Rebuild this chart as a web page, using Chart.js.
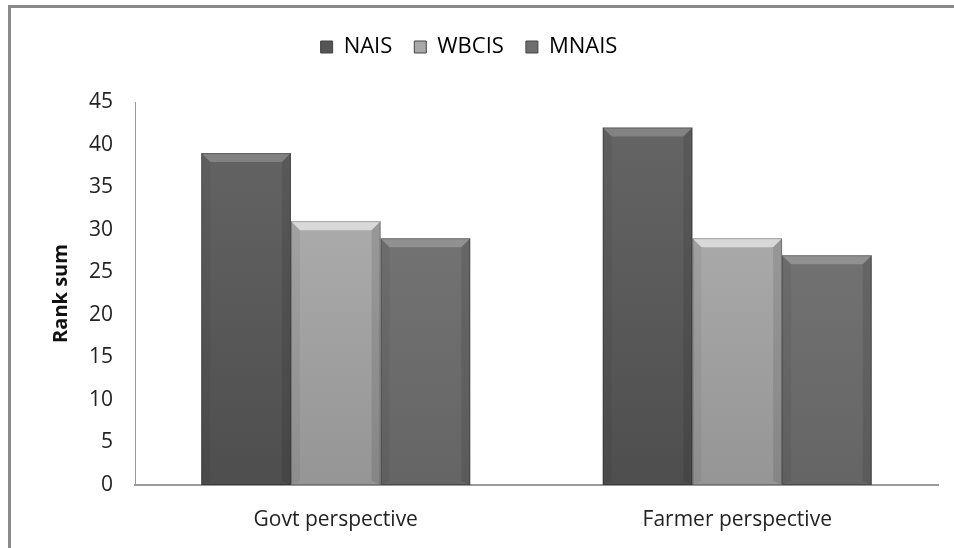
<!DOCTYPE html>
<html>
<head>
<meta charset="utf-8">
<script src="https://cdn.jsdelivr.net/npm/chart.js@4/dist/chart.umd.min.js"></script>
<style>
    body { margin: 0; background: #fff; overflow: hidden; }
    .frame {
        position: absolute;
        left: 8px;
        top: 5px;
        width: 980px;
        height: 580px;
        border: 3px solid #8a8a8a;
    }
    #chart-wrap {
        position: absolute;
        left: 0;
        top: 0;
        width: 954px;
        height: 548px;
    }
</style>
</head>
<body>
<div class="frame"></div>
<div id="chart-wrap"><canvas id="rankChart"></canvas></div>
<script>
// Chart data
const categories = ['Govt perspective', 'Farmer perspective'];
const naisValues = [39, 42];
const wbcisValues = [31, 29];
const mnaisValues = [29, 27];
const yTicks = [0, 5, 10, 15, 20, 25, 30, 35, 40, 45];

const fontFamily = '"Open Sans", Lato, sans-serif';

// vertical gradient per bar
function barGradient(top, bottom) {
    return function(context) {
        const chart = context.chart;
        const area = chart.chartArea;
        if (!area) return bottom;
        const g = chart.ctx.createLinearGradient(0, area.top, 0, area.bottom);
        g.addColorStop(0, top);
        g.addColorStop(1, bottom);
        return g;
    };
}

// Extra space under the legend
const legendGap = {
    id: 'legendGap',
    beforeInit(chart) {
        const origFit = chart.legend.fit;
        chart.legend.fit = function() {
            origFit.bind(chart.legend)();
            this.height += 34;
        };
    }
};

// Draws the bevelled top edge on each bar
const bevelPlugin = {
    id: 'bevel',
    afterDatasetsDraw(chart) {
        const ctx = chart.ctx;
        chart.data.datasets.forEach((ds, i) => {
            const meta = chart.getDatasetMeta(i);
            meta.data.forEach(bar => {
                const left = bar.x - bar.width / 2;
                const right = bar.x + bar.width / 2;
                const top = bar.y;
                const bevel = 9;
                ctx.save();
                // top highlight
                ctx.beginPath();
                ctx.moveTo(left, top);
                ctx.lineTo(right, top);
                ctx.lineTo(right - bevel, top + bevel);
                ctx.lineTo(left + bevel, top + bevel);
                ctx.closePath();
                ctx.fillStyle = ds.bevelTop;
                ctx.fill();
                // side shades
                ctx.beginPath();
                ctx.moveTo(left, top);
                ctx.lineTo(left + bevel, top + bevel);
                ctx.lineTo(left + bevel, bar.base - 4);
                ctx.lineTo(left, bar.base);
                ctx.closePath();
                ctx.fillStyle = 'rgba(0,0,0,0.05)';
                ctx.fill();
                ctx.beginPath();
                ctx.moveTo(right, top);
                ctx.lineTo(right - bevel, top + bevel);
                ctx.lineTo(right - bevel, bar.base - 4);
                ctx.lineTo(right, bar.base);
                ctx.closePath();
                ctx.fillStyle = 'rgba(0,0,0,0.10)';
                ctx.fill();
                ctx.strokeStyle = 'rgba(0,0,0,0.25)';
                ctx.lineWidth = 1;
                ctx.strokeRect(left + 0.5, top + 0.5, bar.width - 1, bar.base - top - 1);
                ctx.restore();
            });
        });
    }
};

const ctx = document.getElementById('rankChart').getContext('2d');

new Chart(ctx, {
    type: 'bar',
    data: {
        labels: categories,
        datasets: [
            {
                label: 'NAIS',
                data: naisValues,
                backgroundColor: barGradient('#666666', '#4e4e4e'),
                bevelTop: 'rgba(255,255,255,0.2)',
                borderWidth: 0
            },
            {
                label: 'WBCIS',
                data: wbcisValues,
                backgroundColor: barGradient('#b4b4b4', '#959595'),
                bevelTop: 'rgba(255,255,255,0.55)',
                borderWidth: 0
            },
            {
                label: 'MNAIS',
                data: mnaisValues,
                backgroundColor: barGradient('#7a7a7a', '#656565'),
                bevelTop: 'rgba(255,255,255,0.22)',
                borderWidth: 0
            }
        ]
    },
    options: {
        responsive: true,
        maintainAspectRatio: false,
        animation: false,
        layout: {
            padding: { top: 14, right: 16, left: 0, bottom: 0 }
        },
        datasets: {
            bar: {
                categoryPercentage: 0.67,
                barPercentage: 1.0
            }
        },
        plugins: {
            legend: {
                position: 'top',
                labels: {
                    color: '#222',
                    font: { family: fontFamily, size: 22 },
                    boxWidth: 12,
                    boxHeight: 12,
                    padding: 22,
                    generateLabels(chart) {
                        const fills = ['#555555', '#a8a8a8', '#6e6e6e'];
                        return chart.data.datasets.map((ds, i) => ({
                            text: ds.label,
                            fillStyle: fills[i],
                            strokeStyle: '#444',
                            lineWidth: 1,
                            datasetIndex: i,
                            hidden: false
                        }));
                    }
                }
            },
            tooltip: { enabled: false }
        },
        scales: {
            x: {
                grid: { display: false, drawTicks: false },
                border: { display: true, color: '#9a9a9a', width: 2 },
                ticks: {
                    color: '#222',
                    font: { family: fontFamily, size: 21 },
                    padding: 22
                },
                afterFit(scale) { scale.height = 63; }
            },
            y: {
                min: 0,
                max: 45,
                afterBuildTicks(scale) {
                    scale.ticks = yTicks.map(v => ({ value: v }));
                },
                grid: { display: false, drawTicks: false },
                border: { display: true, color: '#9a9a9a', width: 1 },
                ticks: {
                    color: '#222',
                    font: { family: fontFamily, size: 21 },
                    padding: 22
                },
                title: {
                    display: true,
                    text: 'Rank sum',
                    color: '#111',
                    font: { family: fontFamily, size: 20, weight: 'bold' },
                    padding: { top: 49, bottom: 0 }
                },
                afterFit(scale) { scale.width = 135; }
            }
        }
    },
    plugins: [legendGap, bevelPlugin]
});
</script>
</body>
</html>
